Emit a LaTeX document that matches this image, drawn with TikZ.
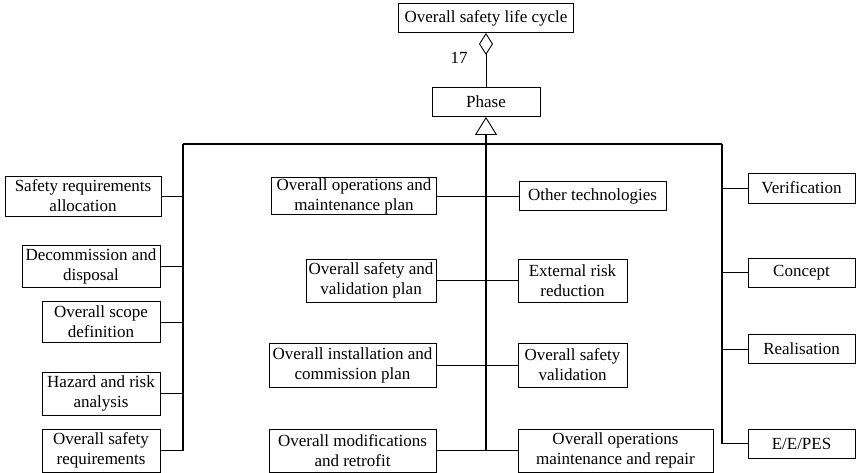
\documentclass[tikz,border=0pt]{standalone}
\usepackage{fontspec}
\setmainfont{Liberation Serif}
\usetikzlibrary{arrows.meta}

\begin{document}
\begin{tikzpicture}[
    x=1pt, y=-1pt,
    every node/.style={font=\fontsize{17}{20}\selectfont},
    box/.style={draw, line width=0.9pt, align=center, inner xsep=2pt, inner ysep=0pt, minimum height=#1},
    box/.default=29pt,
    bus/.style={line width=1.5pt},
    link/.style={line width=0.9pt}
    ]
    \useasboundingbox (0,0) rectangle (856,473);

    \node[box, minimum width=175pt] (cycle) at (486,18) {Overall safety life cycle};
    \node[box, minimum width=108pt] (phase) at (486,102) {Phase};
    \node (mult) at (459,58) {17};

    % left column
    \node[box=40pt, minimum width=156pt] (sra) at (83,196) {Safety requirements\\allocation};
    \node[box=42pt, minimum width=138pt] (dad) at (91,266) {Decommission and\\disposal};
    \node[box=41pt, minimum width=118pt] (osd) at (101,322) {Overall scope\\definition};
    \node[box=43pt, minimum width=118pt] (hra) at (101,393.5) {Hazard and risk\\analysis};
    \node[box=43pt, minimum width=118pt] (osr) at (101,450.5) {Overall safety\\requirements};

    % middle, left of the spine
    \node[box=37pt, minimum width=165pt] (omp) at (354,196) {Overall operations and\\maintenance plan};
    \node[box=43pt, minimum width=130pt] (osvp) at (371,280.5) {Overall safety and\\validation plan};
    \node[box=44pt, minimum width=167pt] (oicp) at (352.5,365) {Overall installation and\\commission plan};
    \node[box=43pt, minimum width=167pt] (omr) at (352.5,450.5) {Overall modifications\\and retrofit};

    % middle, right of the spine
    \node[box, minimum width=147pt] (otech) at (592.5,196) {Other technologies};
    \node[box=43pt, minimum width=109pt] (err) at (572.5,280.5) {External risk\\reduction};
    \node[box=44pt, minimum width=109pt] (osv) at (572.5,365) {Overall safety\\validation};
    \node[box=43pt, minimum width=195pt] (oomr) at (615.5,450.5) {Overall operations\\maintenance and repair};

    % right column
    \node[box=30pt, minimum width=107pt] (ver) at (801.5,188) {Verification};
    \node[box, minimum width=107pt] (con) at (801.5,272.5) {Concept};
    \node[box, minimum width=107pt] (rea) at (801.5,349) {Realisation};
    \node[box, minimum width=107pt] (eep) at (801.5,443.5) {E/E/PES};

    \coordinate (lcol) at (183,144);
    \coordinate (rcol) at (722,144);

    \draw[link, {Diamond[open, length=22pt, width=14pt]}-] (cycle) -- (phase);
    \draw[bus, -{Triangle[open, length=18pt, width=22pt, line width=0.9pt]}] (omr.east -| phase.south) -- (phase);
    \draw[bus] (lcol) -- (rcol);
    \draw[bus] (lcol) -- (lcol |- osr.east);
    \draw[bus] (rcol) -- (rcol |- eep.west);

    \foreach \n in {sra,dad,osd,hra,osr}
        \draw[link] (\n.east) -- (\n.east -| lcol);
    \foreach \n in {ver,con,rea,eep}
        \draw[link] (\n.west) -- (\n.west -| rcol);
    \foreach \a/\b in {omp/otech,osvp/err,oicp/osv,omr/oomr}
        \draw[link] (\a.east) -- (\b.west);
\end{tikzpicture}
\end{document}
